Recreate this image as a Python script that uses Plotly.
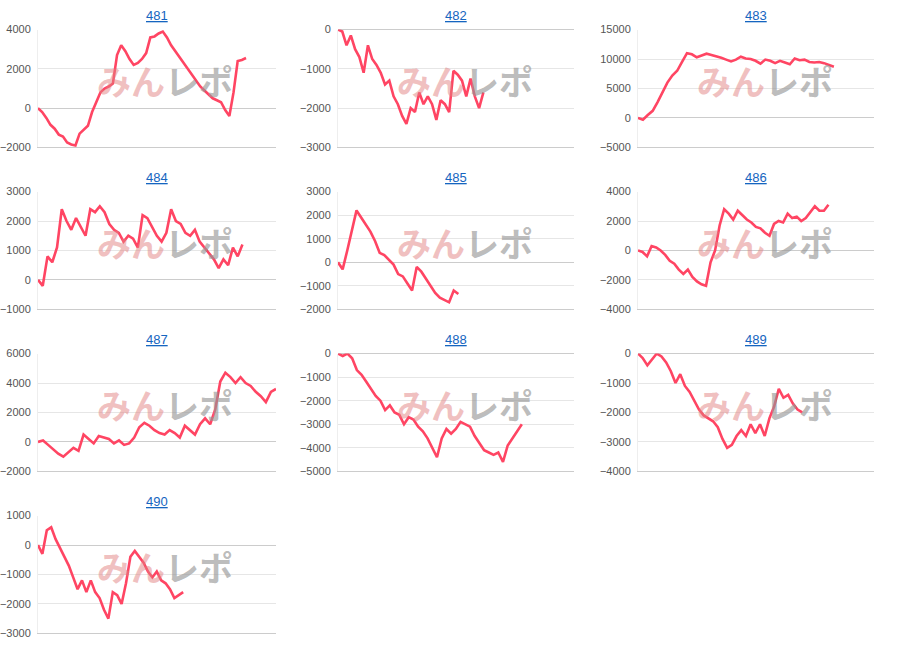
import plotly.graph_objects as go

titles = ["481","482","483","484","485","486","487","488","489","490"]
s481 = [0,-200,-500,-850,-1050,-1350,-1450,-1750,-1850,-1900,-1300,-1100,-900,-200,300,800,1000,1100,1250,2700,3200,2900,2500,2200,2300,2500,2800,3600,3650,3800,3900,3600,3200,2900,2600,2300,2000,1700,1400,1100,900,700,500,400,300,-100,-400,800,2400,2450,2550]
s482 = [0,-50,-400,-150,-500,-700,-1100,-400,-750,-900,-1100,-1400,-1300,-1700,-1900,-2200,-2400,-2000,-2100,-1600,-1900,-1700,-1900,-2300,-1800,-1900,-2100,-1050,-1150,-1300,-1700,-1250,-1700,-2000,-1600]
s483 = [0,-300,500,1200,2700,4300,6000,7200,8000,9500,11000,10800,10300,10600,10900,10700,10500,10200,9900,9600,9900,10400,10100,10000,9700,9200,9900,9700,9300,9700,9400,9100,10100,9800,9900,9500,9400,9500,9300,9000,8700]
s484 = [0,-200,800,600,1100,2400,2000,1700,2100,1800,1500,2400,2300,2500,2300,1900,1700,1600,1300,1500,1400,1100,2200,2100,1800,1500,1300,1600,2400,2000,1900,1600,1500,1700,1300,1100,900,700,400,700,500,1100,800,1200]
s485 = [0,-300,500,1300,2200,1900,1600,1300,900,400,300,100,-100,-500,-600,-900,-1200,-200,-400,-700,-1000,-1300,-1500,-1600,-1700,-1200,-1350]
s486 = [0,-100,-400,300,200,0,-300,-700,-900,-1300,-1600,-1300,-1800,-2100,-2300,-2400,-800,0,1700,2800,2500,2100,2700,2400,2100,1900,1600,1500,1200,1000,1800,2000,1900,2500,2200,2300,2000,2200,2600,3000,2700,2700,3100]
s487 = [0,100,-200,-500,-800,-1000,-700,-400,-600,500,200,-100,400,300,200,-100,100,-200,-100,300,1000,1300,1100,800,600,500,800,600,300,1100,800,500,1200,1600,1200,2200,4100,4700,4400,4000,4400,4000,3800,3400,3100,2700,3400,3600]
s488 = [0,-100,0,-200,-700,-900,-1200,-1500,-1800,-2000,-2400,-2200,-2500,-2600,-3000,-2700,-2800,-3100,-3300,-3600,-4000,-4400,-3600,-3200,-3400,-3200,-2900,-3000,-3100,-3500,-3800,-4100,-4200,-4300,-4200,-4600,-3900,-3600,-3300,-3000]
s489 = [0,-150,-400,-200,0,-100,-300,-600,-1000,-700,-1100,-1300,-1600,-1900,-2100,-2200,-2300,-2500,-2900,-3200,-3100,-2800,-2600,-2800,-2400,-2700,-2400,-2800,-2200,-1800,-1200,-1500,-1400,-1700,-1900,-2000]
s490 = [0,-300,500,600,200,-100,-400,-700,-1100,-1500,-1200,-1600,-1200,-1600,-1800,-2200,-2500,-1600,-1700,-2000,-1300,-400,-200,-400,-600,-900,-1100,-900,-1200,-1300,-1500,-1800,-1700,-1600]
series = [s481,s482,s483,s484,s485,s486,s487,s488,s489,s490]
y_ranges = [(-2000,4000,2000),(-3000,0,1000),(-5000,15000,5000),(-1000,3000,1000),(-2000,3000,1000),
            (-4000,4000,2000),(-2000,6000,2000),(-5000,0,1000),(-4000,0,1000),(-3000,1000,1000)]
end_frac = [0.874,0.616,0.83,0.859,0.51,0.807,1.0,0.779,0.696,0.61]

W, H = 900, 660
col_x = [(38,276),(338,574),(638,874)]
row_y = [(24,144),(189,309),(354,474),(519,639)]

def px(x): return x / W
def py(y): return 1 - y / H

fig = go.Figure()
anns = []
for k, (t, s) in enumerate(zip(titles, series)):
    r, c = divmod(k, 3)
    x0, x1 = col_x[c]; y0, y1 = row_y[r]
    n = k + 1
    xa = "xaxis" if n == 1 else f"xaxis{n}"
    ya = "yaxis" if n == 1 else f"yaxis{n}"
    xr = "x" if n == 1 else f"x{n}"
    yr = "y" if n == 1 else f"y{n}"
    fig.add_trace(go.Scatter(x=list(range(len(s))), y=s, mode="lines", xaxis=xr, yaxis=yr,
                             line=dict(color="#ff4563", width=2.6), showlegend=False, hoverinfo="skip"))
    lo, hi, dt = y_ranges[k]
    fig.layout[xa] = dict(domain=[px(x0), px(x1)], range=[0, (len(s)-1)/end_frac[k]], showgrid=False,
                          showticklabels=False, zeroline=False, showline=True, linecolor="#cccccc",
                          anchor=yr, fixedrange=True)
    fig.layout[ya] = dict(domain=[py(y1), py(y0)], range=[lo, hi], dtick=dt, tick0=lo,
                          tickformat="d", ticklabelstandoff=4,
                          gridcolor="#e6e6e6", zeroline=True, zerolinecolor="#cccccc", zerolinewidth=1,
                          showline=True, linecolor="#eeeeee", ticks="", anchor=xr,
                          tickfont=dict(size=11, color="#555555"), fixedrange=True)
    cx = (x0 + x1) / 2
    anns.append(dict(text=f"<u>{t}</u>", x=px(cx), y=py(y0-14), xref="paper", yref="paper",
                     xanchor="center", yanchor="middle",
                     showarrow=False, font=dict(size=13, color="#1565c0")))
    anns.append(dict(text="<b><span style='color:rgba(225,130,130,0.5)'>みん</span>"
                          "<span style='color:rgba(150,150,150,0.65)'>レポ</span></b>",
                     x=px(x0+127), y=py(y0+52), xref="paper", yref="paper",
                     xanchor="center", yanchor="middle",
                     showarrow=False, font=dict(size=34, family="Noto Sans CJK JP")))

fig.update_layout(width=W, height=H, margin=dict(l=0, r=0, t=0, b=0), plot_bgcolor="white",
                  paper_bgcolor="white", font=dict(family="Liberation Sans, Arial"), annotations=anns)
fig.write_html("out.html", config={"displayModeBar": False},
               post_script="document.body.style.margin='0';document.body.style.overflow='hidden';")
